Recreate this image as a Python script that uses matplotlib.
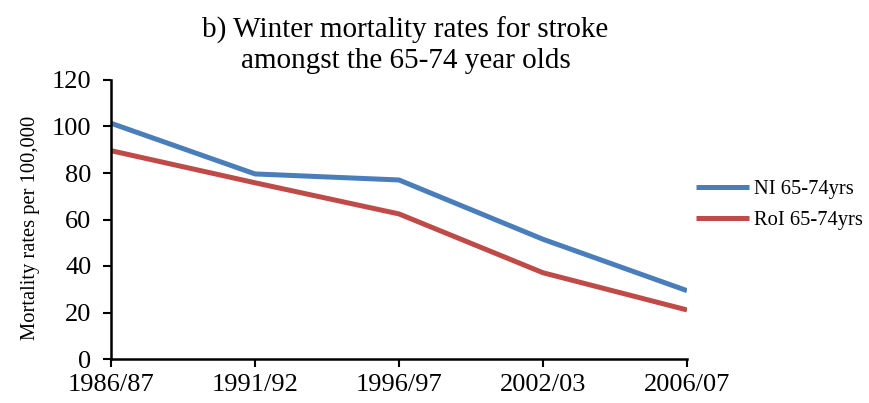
import matplotlib.pyplot as plt

periods = ["1986/87", "1991/92", "1996/97", "2002/03", "2006/07"]
ni_rates = [101.4, 79.6, 77.0, 51.5, 29.4]
roi_rates = [89.6, 75.8, 62.4, 37.1, 21.1]
yticks = [0, 20, 40, 60, 80, 100, 120]

plt.rcParams['font.family'] = ['Liberation Serif', 'DejaVu Serif']

fig = plt.figure(figsize=(8.7, 4.03), dpi=100)
# axes in pixel terms: left 111, right 687, top 80, bottom 359
ax = fig.add_axes([111 / 870, 1 - 359 / 403, 576 / 870, 279 / 403])

x = list(range(len(periods)))
ax.plot(x, ni_rates, color='#4A7EBB', lw=3.6, label='NI 65-74yrs', solid_capstyle='butt')
ax.plot(x, roi_rates, color='#BE4B48', lw=3.6, label='RoI 65-74yrs', solid_capstyle='butt')

ax.set_xlim(0, len(periods) - 1)
ax.set_ylim(0, 120)
ax.set_xticks(x)
ax.set_xticklabels(periods, fontsize=19)
ax.set_yticks(yticks)
ax.set_yticklabels([str(v) for v in yticks], fontsize=19)
ax.tick_params(axis='both', direction='out', length=6, width=1.5)
ax.tick_params(axis='x', pad=5)
ax.tick_params(axis='y', pad=8)
for side in ['top', 'right']:
    ax.spines[side].set_visible(False)
for side in ['left', 'bottom']:
    ax.spines[side].set_linewidth(1.8)

ax.set_ylabel("Mortality rates per 100,000", fontsize=14.8)
ax.yaxis.set_label_coords(40 / 870, 1 - 228 / 403, transform=fig.transFigure)

fig.text(0.466, 1 - 68 / 403, "b) Winter mortality rates for stroke\namongst the 65-74 year olds",
         ha='center', va='baseline', fontsize=21, linespacing=1.2)

ax.legend(loc='center left', bbox_to_anchor=(677 / 870, 1 - 205 / 403),
          bbox_transform=fig.transFigure, frameon=False, fontsize=14.8,
          handlelength=2.6, handletextpad=0.25, labelspacing=0.55)

for spine in ax.spines.values():
    spine.set_clip_on(False)

fig.savefig("out.png", dpi=100)
